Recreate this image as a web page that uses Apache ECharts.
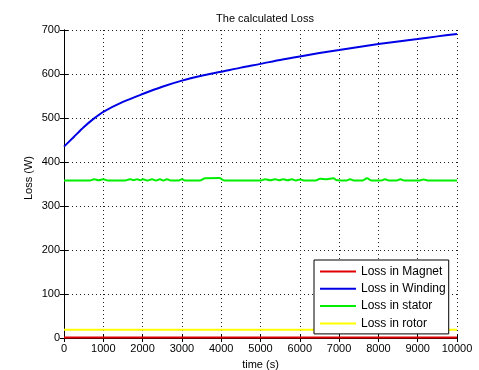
<!DOCTYPE html>
<html>
<head>
<meta charset="utf-8">
<script src="https://cdn.jsdelivr.net/npm/echarts@6/dist/echarts.min.js"></script>
<style>
html,body{margin:0;padding:0;background:#fff;}
#chart{width:479px;height:370px;}
</style>
</head>
<body>
<div id="chart"></div>
<script>
var titleText = 'The calculated Loss';
var xName = 'time (s)';
var yName = 'Loss (W)';
var seriesNames = ['Loss in Magnet', 'Loss in Winding', 'Loss in stator', 'Loss in rotor'];

var magnetTime = [0, 10000];
var magnetLoss = [1, 1];

var windingTime = [0, 250, 500, 750, 1000, 1500, 2000, 2500, 3000, 3500, 4000, 4500, 5000, 5500, 6000, 6500, 7000, 7500, 8000, 8500, 9000, 9500, 10000];
var windingLoss = [435, 457, 479, 498, 514, 536.5, 554.5, 571, 585, 596, 605, 614.5, 623, 632, 640, 647.5, 654.5, 661.5, 668, 674, 679.5, 685.5, 691];

var statorTime = [0, 650, 770, 880, 1000, 1120, 1550, 1680, 1770, 1860, 1940, 2010, 2120, 2240, 2340, 2440, 2530, 2620, 2720, 2920, 3000, 3080, 3450, 3600, 3950, 4080, 5000, 5120, 5250, 5370, 5470, 5580, 5690, 5800, 5900, 6010, 6100, 6400, 6520, 6680, 6850, 6950, 7180, 7280, 7380, 7600, 7710, 7820, 8070, 8170, 8270, 8460, 8560, 8660, 9050, 9150, 9250, 10000];
var statorLoss = [358, 358, 361, 358.5, 361, 358, 358, 361, 358.5, 361, 358.5, 361, 358, 361, 358, 361, 358, 361, 358, 358, 361, 358, 358, 363, 363.5, 358, 358, 361, 358.5, 361, 358.5, 361, 358.5, 361, 358, 360.5, 358, 358, 362, 361, 363, 358.5, 358, 361, 358, 358, 363, 358, 358, 361, 358, 358, 361, 358, 358, 360.5, 358, 358];

var rotorTime = [0, 10000];
var rotorLoss = [19, 19];

var xTicks = {min: 0, max: 10000, interval: 1000};
var yTicks = {min: 0, max: 700, interval: 100};

function pairs(t, v) { return t.map(function (x, i) { return [x, v[i]]; }); }

var font = 'Liberation Sans, Arial, Helvetica, sans-serif';
var chart = echarts.init(document.getElementById('chart'), null, {renderer: 'canvas'});

var axisLineStyle = {show: true, lineStyle: {color: '#000', width: 1}};
var tickStyle = {show: true, inside: true, length: 4, lineStyle: {color: '#000'}};
var gridLine = {show: true, lineStyle: {color: '#222', type: [1, 3], width: 1}};
function plain(v) { return String(v); }

chart.setOption({
  animation: false,
  backgroundColor: '#fff',
  title: {
    text: titleText, left: 260, top: 8, textAlign: 'center',
    textStyle: {fontFamily: font, fontSize: 11, fontWeight: 'normal', color: '#000'}
  },
  grid: {left: 64, right: 22, top: 30, bottom: 32, outerBoundsMode: 'none', containLabel: false},
  legend: {
    orient: 'vertical', left: 314, top: 260,
    data: seriesNames,
    icon: 'rect', itemWidth: 36, itemHeight: 2, itemGap: 0.3,
    padding: [3, 3, 2, 6],
    backgroundColor: '#fff', borderColor: '#000', borderWidth: 1, borderRadius: 0,
    textStyle: {fontFamily: font, fontSize: 12, color: '#000', lineHeight: 17}
  },
  xAxis: [{
    type: 'value', min: xTicks.min, max: xTicks.max, interval: xTicks.interval,
    name: xName, nameLocation: 'middle', nameGap: 21, nameMoveOverlap: false,
    nameTextStyle: {fontFamily: font, fontSize: 11, color: '#000'},
    axisLine: axisLineStyle, axisTick: tickStyle, splitLine: gridLine,
    axisLabel: {fontFamily: font, fontSize: 11, color: '#000', margin: 5, formatter: plain}
  }, {
    type: 'value', position: 'top', min: xTicks.min, max: xTicks.max, interval: xTicks.interval,
    axisLine: axisLineStyle, axisTick: tickStyle, splitLine: {show: false}, axisLabel: {show: false}
  }],
  yAxis: [{
    type: 'value', min: yTicks.min, max: yTicks.max, interval: yTicks.interval,
    name: yName, nameLocation: 'middle', nameGap: 30, nameMoveOverlap: false,
    nameTextStyle: {fontFamily: font, fontSize: 11, color: '#000', padding: [0, 0, 0, 12]},
    axisLine: axisLineStyle, axisTick: tickStyle, splitLine: gridLine,
    axisLabel: {fontFamily: font, fontSize: 11, color: '#000', margin: 4, formatter: plain}
  }, {
    type: 'value', position: 'right', min: yTicks.min, max: yTicks.max, interval: yTicks.interval,
    axisLine: axisLineStyle, axisTick: tickStyle, splitLine: {show: false}, axisLabel: {show: false}
  }],
  series: [
    {name: seriesNames[0], type: 'line', data: pairs(magnetTime, magnetLoss), symbol: 'none',
     color: '#e00000', lineStyle: {width: 2}},
    {name: seriesNames[1], type: 'line', data: pairs(windingTime, windingLoss), symbol: 'none',
     smooth: 0.3,
     color: '#0000e6', lineStyle: {width: 2}},
    {name: seriesNames[2], type: 'line', data: pairs(statorTime, statorLoss), symbol: 'none', smooth: 0.4,
     color: '#00ee00', lineStyle: {width: 2}},
    {name: seriesNames[3], type: 'line', data: pairs(rotorTime, rotorLoss), symbol: 'none',
     color: '#ffff00', lineStyle: {width: 2}}
  ]
});
</script>
</body>
</html>
